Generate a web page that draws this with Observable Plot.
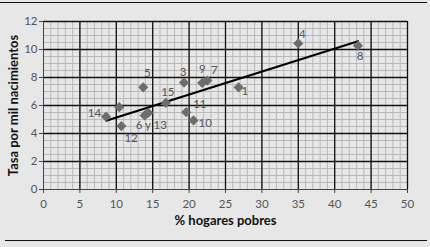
<!DOCTYPE html>
<html>
<head>
<meta charset="utf-8">
<script src="https://cdn.jsdelivr.net/npm/d3@7"></script>
<script src="https://cdn.jsdelivr.net/npm/@observablehq/plot@0.6"></script>
<style>
  html, body { margin: 0; padding: 0; background: #e7e7e7; }
  #wrap { position: relative; width: 430px; height: 247px; overflow: hidden; background: #e7e7e7; }
  #wrap .rule-top { position: absolute; left: 0; top: 2px; width: 427px; height: 0; border-top: 1.5px solid #111; }
  #wrap .rule-bottom { position: absolute; left: 5px; top: 240px; width: 422px; height: 0; border-top: 1.5px solid #111; }
  #wrap svg { position: absolute; left: 0; top: 0; overflow: visible; }
</style>
</head>
<body>
<div id="wrap">
  <div class="rule-top"></div>
  <div class="rule-bottom"></div>
</div>
<script>
// Data
const ids = ["1","2","3","4","5","6","7","8","9","10","11","12","13","14","15"];
const pobreza = [26.8, 10.4, 19.3, 35.0, 13.7, 13.9, 22.5, 43.2, 21.8, 20.6, 19.6, 10.7, 14.4, 8.6, 16.8];
const tasa    = [7.30, 5.88, 7.64, 10.43, 7.30, 5.29, 7.78, 10.27, 7.61, 4.93, 5.52, 4.53, 5.48, 5.20, 6.19];
const labels  = ["1", "", "3", "4", "5", "6 y 13", "7", "8", "9", "10", "11", "12", "", "14", "15"];
const xTicks = [0, 5, 10, 15, 20, 25, 30, 35, 40, 45, 50];
const yTicks = [0, 2, 4, 6, 8, 10, 12];
const xMinor = d3.range(0, 51, 1);
const yMinor = d3.range(0, 12.01, 0.5);

const data = ids.map((id, i) => ({id, x: pobreza[i], y: tasa[i], label: labels[i]}));

// label placement (style only)
const place = {
  "1":  {dx: 3,  dy: 4,   anchor: "start"},
  "3":  {dx: -1, dy: -10, anchor: "middle"},
  "4":  {dx: 4,  dy: -9,  anchor: "middle"},
  "5":  {dx: 4,  dy: -14, anchor: "middle"},
  "6 y 13": {dx: -9, dy: 10, anchor: "start"},
  "7":  {dx: 7,  dy: -10, anchor: "middle"},
  "8":  {dx: 2,  dy: 11,  anchor: "middle"},
  "9":  {dx: 0,  dy: -14, anchor: "middle"},
  "10": {dx: 5,  dy: 3,   anchor: "start"},
  "11": {dx: 7,  dy: -8,  anchor: "start"},
  "12": {dx: 3,  dy: 12,  anchor: "start"},
  "14": {dx: -5, dy: -3,  anchor: "end"},
  "15": {dx: 2,  dy: -11, anchor: "middle"}
};

const textColor = "#555";
const font = "Lato, 'Open Sans', sans-serif";

const labelMarks = Object.entries(place).map(([lab, p]) =>
  Plot.text(data.filter(d => d.label === lab), {
    x: "x", y: "y", text: "label", dx: p.dx, dy: p.dy, textAnchor: p.anchor,
    fill: textColor, fontSize: 11.5, fontFamily: font
  })
);

const chart = Plot.plot({
  width: 430,
  height: 247,
  marginLeft: 43,
  marginRight: 23,
  marginTop: 21,
  marginBottom: 58,
  style: {background: "transparent", fontFamily: font},
  x: {domain: [0, 50], ticks: xTicks, label: null},
  y: {domain: [0, 12], ticks: yTicks, label: null},
  marks: [
    Plot.ruleX(xMinor, {stroke: "#b9b9b9", strokeWidth: 1}),
    Plot.ruleY(yMinor, {stroke: "#b9b9b9", strokeWidth: 1}),
    Plot.ruleX(xTicks.filter(d => d > 0), {stroke: "#111", strokeWidth: 1.3}),
    Plot.ruleY(yTicks.filter(d => d > 0), {stroke: "#111", strokeWidth: 1.3}),
    Plot.ruleX([0], {stroke: "#444", strokeWidth: 1}),
    Plot.ruleY([0], {stroke: "#444", strokeWidth: 1}),
    Plot.axisX({ticks: xTicks, tickSize: 4, tickPadding: 6, fontSize: 11.5, color: textColor, stroke: "#444", label: null}),
    Plot.axisY({ticks: yTicks, tickSize: 4, tickPadding: 2, fontSize: 11.5, color: textColor, stroke: "#444", label: null}),
    Plot.linearRegressionY(data, {x: "x", y: "y", ci: 0, stroke: "#000", strokeWidth: 2.2}),
    Plot.dot(data, {x: "x", y: "y", symbol: "diamond2", r: 4.6, fill: "#6d6d6d", stroke: "none"}),
    ...labelMarks,
    Plot.text(["% hogares pobres"], {frameAnchor: "bottom", dy: 35, textAnchor: "middle", fontWeight: "bold", fontSize: 13, fill: "#111", fontFamily: font}),
    Plot.text(["Tasa por mil nacimientos"], {frameAnchor: "left", dx: -30, textAnchor: "middle", rotate: -90, fontWeight: "bold", fontSize: 13, fill: "#111", fontFamily: font})
  ]
});
document.getElementById("wrap").appendChild(chart);
</script>
</body>
</html>
